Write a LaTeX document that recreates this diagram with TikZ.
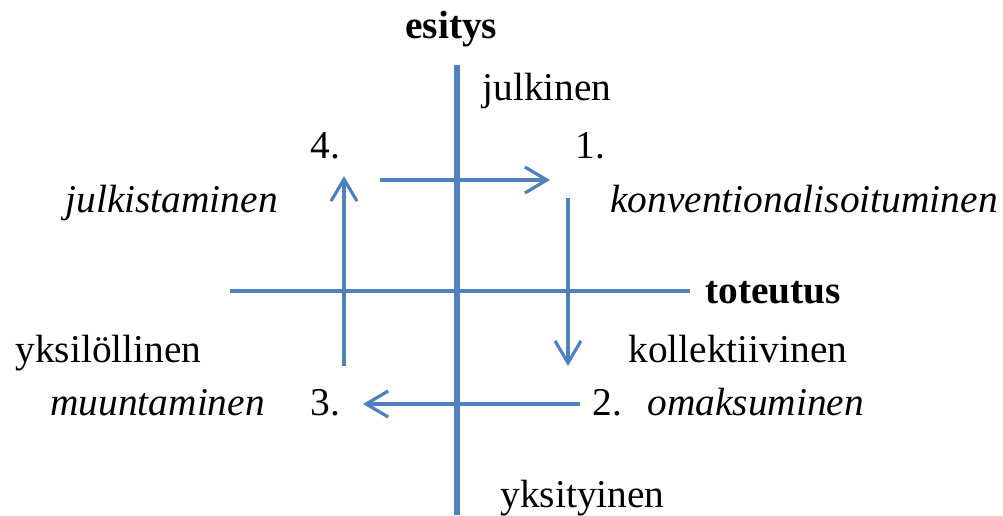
\documentclass[tikz,border=0pt]{standalone}
\usepackage{fontspec}
\setmainfont{Liberation Serif}
\usetikzlibrary{arrows.meta}
\definecolor{axisblue}{HTML}{4F81BD}
\begin{document}
\begin{tikzpicture}[x=0.5pt,y=-0.5pt,
  lbl/.style={inner sep=0pt,anchor=base west,font=\fontsize{19.7}{22}\selectfont},
  ital/.style={lbl,font=\fontsize{19.7}{22}\selectfont\itshape},
  bld/.style={lbl,font=\fontsize{19.7}{22}\selectfont\bfseries},
  axis/.style={draw=axisblue,line width=2.6pt},
  haxis/.style={draw=axisblue,line width=1.9pt},
  flow/.style={draw=axisblue,line width=1.6pt,-{Straight Barb[length=11pt,width=13pt,line width=1.6pt]}}]
\useasboundingbox (0,0) rectangle (1003,515);
% axes
\coordinate (vtop) at (457,65);
\coordinate (vbot) at (457,515);
\coordinate (hl) at (230,291);
\coordinate (hr) at (690,291);
\path[axis] (vtop) -- (vbot);
\path[haxis] (hl) -- (hr);
% labels
\node[bld] (esitys) at (405,38) {esitys};
\node[lbl] (julkinen) at (482,100) {julkinen};
\node[lbl] (n4) at (310,158) {4.};
\node[lbl] (n1) at (575,158) {1.};
\node[ital] (julkistaminen) at (65,212) {julkistaminen};
\node[ital] (konv) at (610,212) {konventionalisoituminen};
\node[bld] (toteutus) at (705,303) {toteutus};
\node[lbl] (yksil) at (15,362) {yksilöllinen};
\node[lbl] (koll) at (628,362) {kollektiivinen};
\node[ital] (muunt) at (50,415) {muuntaminen};
\node[lbl] (n3) at (310,415) {3.};
\node[lbl] (n2) at (592,415) {2.};
\node[ital] (omaks) at (647,415) {omaksuminen};
\node[lbl] (yksit) at (500,507) {yksityinen};
% flow arrows
\coordinate (a1s) at (380,180);
\coordinate (a1e) at (550,180);
\coordinate (a2s) at (568,198);
\coordinate (a2e) at (568,366);
\coordinate (a3s) at (580,404);
\coordinate (a3e) at (363,404);
\coordinate (a4s) at (344,366);
\coordinate (a4e) at (344,176);
\path[flow] (a1s) -- (a1e);
\path[flow] (a2s) -- (a2e);
\path[flow] (a3s) -- (a3e);
\path[flow] (a4s) -- (a4e);
\end{tikzpicture}
\end{document}
